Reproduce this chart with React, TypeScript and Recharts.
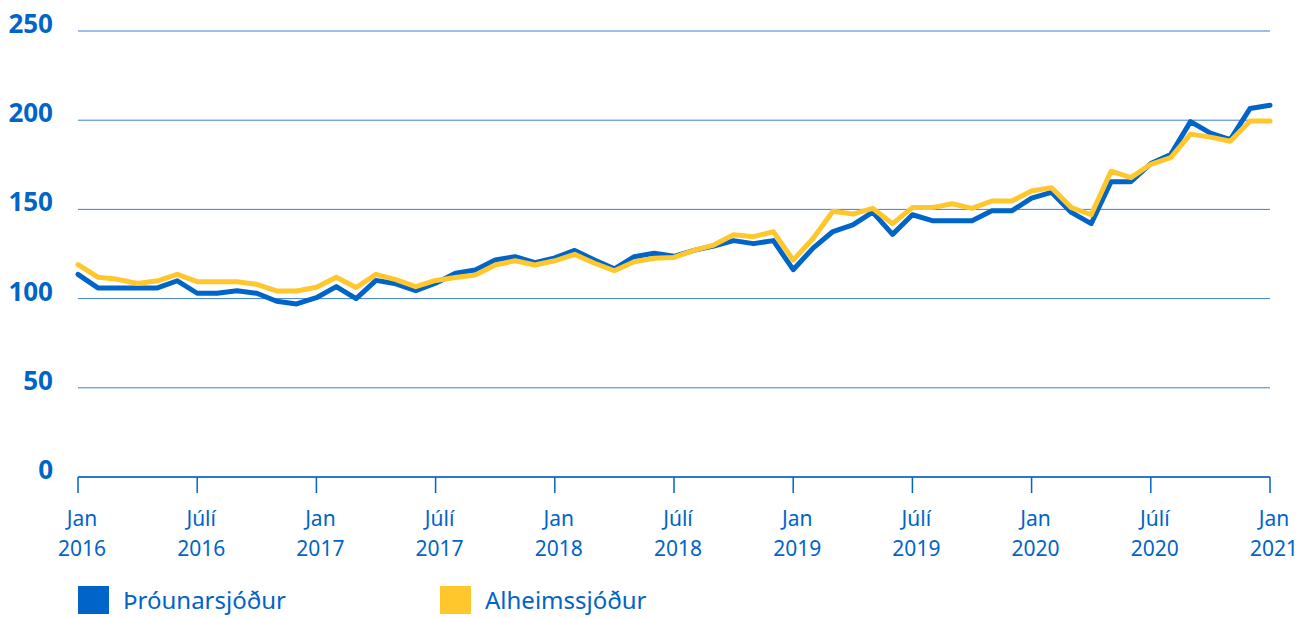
import { LineChart, Line, XAxis, YAxis, CartesianGrid } from 'recharts';

const years = [2016, 2017, 2018, 2019, 2020];
const monthNames = ['jan', 'feb', 'mar', 'apr', 'mai', 'jun', 'jul', 'agu', 'sep', 'okt', 'nov', 'des'];
const categories = [...years.flatMap((y) => monthNames.map((m) => `${m} ${y}`)), 'jan 2021'];

const throunarsjodur = [
  113.6, 106, 106, 106, 106, 110, 103, 103, 104.4, 103,
  98.5, 97, 100.5, 106.7, 100, 110.2, 108.3, 104.4, 108.6, 114.2,
  116, 121.6, 123.5, 120.1, 122.8, 127, 121.6, 116.7, 123.5, 125.4,
  123.7, 127, 129.5, 132.5, 130.8, 132.5, 116.2, 128.3, 137.6, 141.3,
  148.5, 136, 147, 143.7, 143.7, 143.7, 149.2, 149.2, 156.3, 159.6,
  148.3, 142, 165.5, 165.5, 175.7, 180.7, 199.2, 192.8, 189.1, 206.6, 208.4,
];

const alheimssjodur = [
  119, 112, 110.8, 108.5, 110, 113.6, 109.5, 109.5, 109.5, 108,
  104.3, 104.3, 106.4, 112, 106.2, 113.6, 110.6, 106.7, 110.2, 111.8,
  113.2, 118.8, 121.2, 118.8, 121.2, 124.8, 119.8, 115.6, 120.7, 122.6,
  123.1, 127, 130, 135.8, 134.7, 137.5, 121.6, 133.7, 149, 147.4,
  150.6, 142, 151, 151, 153.2, 150.6, 154.7, 154.7, 160.3, 162.2,
  151, 147, 171.4, 167.8, 175.3, 179, 192.2, 190.5, 188.2, 199.5, 199.5,
];

const tickMonths = ['Jan', 'Júlí', 'Jan', 'Júlí', 'Jan', 'Júlí', 'Jan', 'Júlí', 'Jan', 'Júlí', 'Jan'];
const tickYears = ['2016', '2016', '2017', '2017', '2018', '2018', '2019', '2019', '2020', '2020', '2021'];
const yTicks = [0, 50, 100, 150, 200, 250];

const BLUE = '#0064c8';
const YELLOW = '#ffc72c';
const FONT = '"Noto Sans", "Open Sans", sans-serif';

const data = categories.map((name, i) => ({
  name,
  thr: throunarsjodur[i],
  alh: alheimssjodur[i],
}));

const XTick = ({ x, y, index }: any) => (
  <g>
    <text x={x + 4} y={y + 31} textAnchor="middle" fill={BLUE} fontSize={21} fontFamily={FONT}>
      {tickMonths[index]}
    </text>
    <text x={x + 4} y={y + 61} textAnchor="middle" fill={BLUE} fontSize={21} fontFamily={FONT}>
      {tickYears[index]}
    </text>
  </g>
);

const YTick = ({ y, payload }: any) => (
  <text x={53} y={y + 2} textAnchor="end" fill={BLUE} fontSize={26} fontWeight={700} fontFamily={FONT}>
    {payload.value}
  </text>
);

const legendItems = [
  { label: 'Þróunarsjóður', color: BLUE },
  { label: 'Alheimssjóður', color: YELLOW },
];

export default function App() {
  return (
    <div style={{ position: 'absolute', left: 0, top: 0, width: 1314, height: 618, background: '#fff', overflow: 'hidden' }}>
      <LineChart width={1314} height={618} data={data} margin={{ top: 31, right: 44, left: 0, bottom: 0 }}>
        <CartesianGrid vertical={false} stroke="#3d7fd0" strokeWidth={1} />
        <XAxis
          dataKey="name"
          interval={5}
          tick={<XTick />}
          tickSize={16}
          axisLine={{ stroke: BLUE, strokeWidth: 1.5 }}
          tickLine={{ stroke: BLUE, strokeWidth: 1.5 }}
          height={141}
        />
        <YAxis
          domain={[0, 250]}
          ticks={yTicks}
          width={78}
          axisLine={false}
          tickLine={false}
          tick={<YTick />}
        />
        <Line
          dataKey="thr"
          name="Þróunarsjóður"
          stroke={BLUE}
          strokeWidth={5}
          dot={false}
          strokeLinejoin="round"
          strokeLinecap="round"
          isAnimationActive={false}
        />
        <Line
          dataKey="alh"
          name="Alheimssjóður"
          stroke={YELLOW}
          strokeWidth={5}
          dot={false}
          strokeLinejoin="round"
          strokeLinecap="round"
          isAnimationActive={false}
        />
      </LineChart>
      <div style={{ position: 'absolute', left: 78, top: 586, display: 'flex', fontFamily: FONT }}>
        {legendItems.map((item) => (
          <div key={item.label} style={{ display: 'flex', alignItems: 'center', width: 362, height: 28 }}>
            <span style={{ display: 'inline-block', width: 31, height: 28, background: item.color, marginRight: 14 }} />
            <span style={{ fontSize: 24, lineHeight: '28px', color: BLUE }}>{item.label}</span>
          </div>
        ))}
      </div>
    </div>
  );
}
